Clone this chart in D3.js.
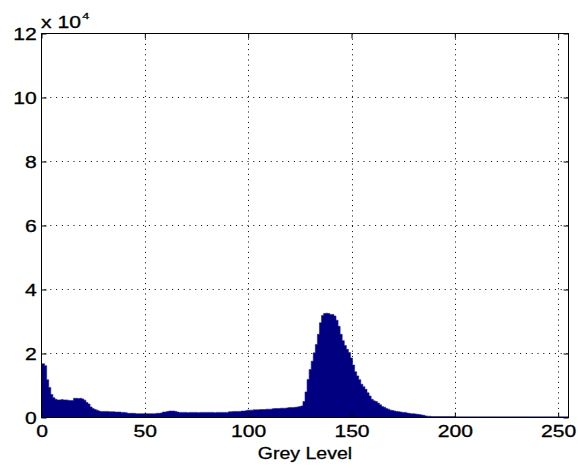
<!DOCTYPE html>
<html>
<head>
<meta charset="utf-8">
<script src="https://cdnjs.cloudflare.com/ajax/libs/d3/7.8.5/d3.min.js"></script>
<style>
  body { margin: 0; background: #fff; }
  svg { display: block; }
  text { font-family: "Liberation Sans", Arial, sans-serif; fill: #000; stroke: #000; stroke-width: 0.3px; }
</style>
</head>
<body>
<div id="chart"></div>
<script>

//Grey level histogram counts, in units of 10^4 (bins 0..255)
var counts = [
  1.68, 1.68, 1.62, 1.18, 0.94, 0.72, 0.62, 0.57, 0.55, 0.55, 0.56, 0.55, 0.55, 0.54, 0.53, 0.53,
  0.60, 0.60, 0.59, 0.60, 0.58, 0.54, 0.47, 0.42, 0.33, 0.28, 0.25, 0.23, 0.20, 0.19, 0.19, 0.19,
  0.19, 0.18, 0.18, 0.18, 0.17, 0.17, 0.17, 0.16, 0.16, 0.15, 0.13, 0.13, 0.13, 0.13, 0.12, 0.12,
  0.12, 0.12, 0.12, 0.12, 0.12, 0.12, 0.12, 0.12, 0.13, 0.13, 0.14, 0.17, 0.17, 0.19, 0.20, 0.20,
  0.20, 0.19, 0.17, 0.16, 0.16, 0.16, 0.16, 0.15, 0.16, 0.16, 0.16, 0.16, 0.15, 0.16, 0.16, 0.16,
  0.16, 0.16, 0.16, 0.16, 0.15, 0.16, 0.16, 0.16, 0.16, 0.16, 0.16, 0.18, 0.18, 0.19, 0.19, 0.19,
  0.19, 0.20, 0.20, 0.21, 0.23, 0.23, 0.23, 0.24, 0.24, 0.24, 0.25, 0.25, 0.25, 0.26, 0.26, 0.26,
  0.27, 0.28, 0.28, 0.28, 0.29, 0.29, 0.29, 0.30, 0.31, 0.31, 0.31, 0.32, 0.33, 0.34, 0.36, 0.50,
  0.80, 1.19, 1.50, 1.76, 2.02, 2.28, 2.60, 2.96, 3.19, 3.25, 3.26, 3.25, 3.22, 3.22, 3.17, 3.04,
  2.85, 2.60, 2.40, 2.25, 2.13, 2.03, 1.86, 1.64, 1.43, 1.30, 1.18, 1.04, 0.96, 0.88, 0.77, 0.67,
  0.57, 0.52, 0.50, 0.45, 0.40, 0.34, 0.32, 0.28, 0.26, 0.23, 0.22, 0.20, 0.19, 0.18, 0.17, 0.16,
  0.16, 0.14, 0.13, 0.12, 0.12, 0.11, 0.10, 0.09, 0.08, 0.07, 0.05, 0.04, 0.04, 0.03, 0.03, 0.03,
  0.03, 0.03, 0.03, 0.03, 0.03, 0.03, 0.03, 0.03, 0.03, 0.02, 0.02, 0.02, 0.02, 0.02, 0.02, 0.02,
  0.02, 0.02, 0.02, 0.02, 0.02, 0.02, 0.02, 0.02, 0.02, 0.02, 0.02, 0.02, 0.02, 0.02, 0.02, 0.02,
  0.02, 0.02, 0.02, 0.02, 0.02, 0.02, 0.02, 0.02, 0.02, 0.02, 0.02, 0.02, 0.02, 0.02, 0.02, 0.02,
  0.02, 0.02, 0.02, 0.02, 0.02, 0.02, 0.02, 0.02, 0.02, 0.02, 0.02, 0.02, 0.02, 0.02, 0.02, 0.02
];

var xTicks = [0, 50, 100, 150, 200, 250];
var yTicks = [0, 2, 4, 6, 8, 10, 12];
var xLabel = "Grey Level";

//svg sizes and plot box
var width = 578,
    height = 469;
var box = { left: 41.5, right: 568.5, top: 33.5, bottom: 417.5 };

//MATLAB-ish fonts look horizontally stretched in the picture
var fontSize = 16,
    stretch = 1.32;

var x = d3.scaleLinear().domain([0, 255]).range([box.left, box.right]);
var y = d3.scaleLinear().domain([0, 12]).range([box.bottom, box.top]);

var svg = d3.select("#chart").append("svg")
    .attr("width", width)
    .attr("height", height);

svg.append("clipPath").attr("id", "plotclip")
  .append("rect")
    .attr("x", box.left).attr("y", box.top)
    .attr("width", box.right - box.left)
    .attr("height", box.bottom - box.top);

///////////////////////// grid (drawn under the bars) /////////////////////////
var grid = svg.append("g")
    .attr("stroke", "#000")
    .attr("stroke-width", 1);

grid.selectAll(".vgrid")
    .data(xTicks.slice(1))
    .enter().append("line")
    .attr("class", "vgrid")
    .attr("x1", function (d) { return Math.round(x(d)) + 0.5; })
    .attr("x2", function (d) { return Math.round(x(d)) + 0.5; })
    .attr("y1", box.top)
    .attr("y2", box.bottom)
    .attr("stroke-dasharray", "1,4.2");

grid.selectAll(".hgrid")
    .data(yTicks.slice(1, -1))
    .enter().append("line")
    .attr("class", "hgrid")
    .attr("x1", box.left + 3)
    .attr("x2", box.right)
    .attr("y1", function (d) { return Math.round(y(d) - 0.5) + 0.5; })
    .attr("y2", function (d) { return Math.round(y(d) - 0.5) + 0.5; })
    .attr("stroke-dasharray", "1,4.8");

///////////////////////// histogram bars /////////////////////////
var area = d3.area()
    .curve(d3.curveStep)
    .x(function (d, i) { return x(i); })
    .y0(y(0))
    .y1(function (d) { return y(d); });

svg.append("path")
    .datum(counts)
    .attr("clip-path", "url(#plotclip)")
    .attr("fill", "#000080")
    .attr("stroke", "#1a1aa0")
    .attr("stroke-width", 0.6)
    .attr("d", area);

///////////////////////// axes, ticks inward, box on /////////////////////////
function styleAxis(g) {
  g.select(".domain").remove();
  g.selectAll(".tick line").attr("stroke", "#000");
}

svg.append("g")
    .attr("transform", "translate(0," + box.bottom + ")")
    .call(d3.axisBottom(x).tickValues(xTicks).tickSizeInner(-5).tickSizeOuter(0))
    .call(styleAxis)
    .call(function (g) {
      g.selectAll(".tick text")
        .attr("y", 8)
        .attr("dy", "0.71em")
        .attr("font-size", fontSize)
        .attr("transform", "scale(" + stretch + ",1)");
    });

svg.append("g")
    .attr("transform", "translate(0," + box.top + ")")
    .call(d3.axisTop(x).tickValues(xTicks).tickSizeInner(-5).tickSizeOuter(0).tickFormat(""))
    .call(styleAxis);

svg.append("g")
    .attr("transform", "translate(" + box.left + ",0)")
    .call(d3.axisLeft(y).tickValues(yTicks).tickSizeInner(-5).tickSizeOuter(0))
    .call(styleAxis)
    .call(function (g) {
      g.selectAll(".tick text")
        .attr("x", -3.6)
        .attr("dy", "0.36em")
        .attr("font-size", fontSize)
        .attr("transform", "scale(" + stretch + ",1)");
    });

svg.append("g")
    .attr("transform", "translate(" + box.right + ",0)")
    .call(d3.axisRight(y).tickValues(yTicks).tickSizeInner(-5).tickSizeOuter(0).tickFormat(""))
    .call(styleAxis);

svg.append("rect")
    .attr("x", box.left).attr("y", box.top)
    .attr("width", box.right - box.left)
    .attr("height", box.bottom - box.top)
    .attr("fill", "none")
    .attr("stroke", "#000")
    .attr("stroke-width", 1);

///////////////////////// exponent and axis label /////////////////////////
var expo = svg.append("text")
    .attr("transform", "translate(41,28) scale(" + stretch + ",1)")
    .attr("font-size", fontSize);
expo.append("tspan").text("x 10");
expo.append("tspan")
    .attr("font-size", 9.5)
    .attr("dy", -9)
    .attr("dx", 1)
    .text("4");

svg.append("text")
    .attr("transform", "translate(" + (box.left + box.right) / 2 + ",459) scale(1.22,1)")
    .attr("text-anchor", "middle")
    .attr("font-size", fontSize)
    .text(xLabel);

</script>
</body>
</html>
